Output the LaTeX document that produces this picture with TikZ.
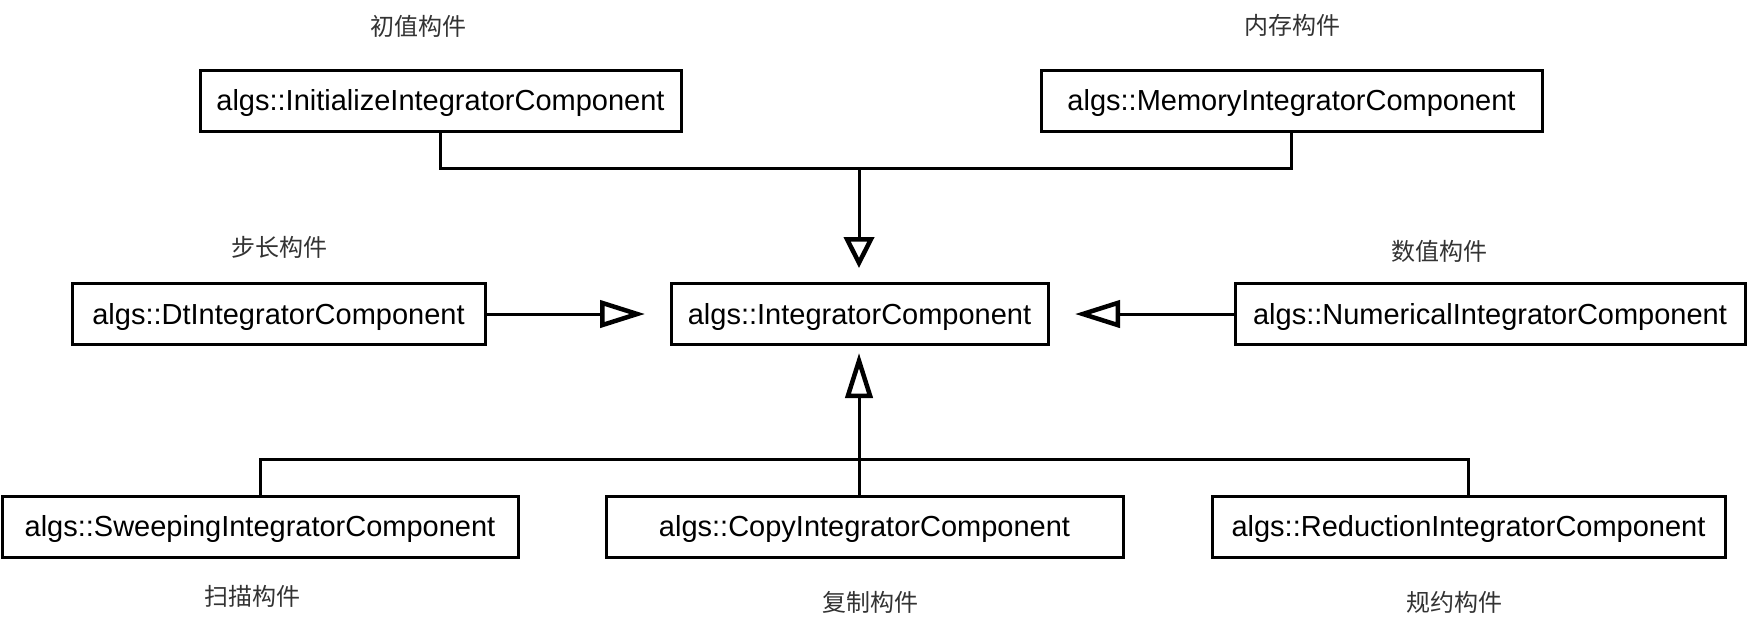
\documentclass[tikz,border=0pt]{standalone}
\usepackage{fontspec}
\setmainfont{Liberation Sans}
\newfontfamily\cjk{Noto Sans CJK SC}
\usetikzlibrary{arrows.meta}
\begin{document}
\begin{tikzpicture}[x=1pt,y=-1pt,
  cls/.style={draw, line width=3pt, minimum height=61pt, inner sep=0pt, text height=26.2pt, text depth=6.1pt, font=\fontsize{29}{34}\selectfont, text=black},
  lbl/.style={font=\cjk\fontsize{24}{28}\selectfont, text=black!80, inner sep=0pt},
  conn/.style={line width=3pt},
  inh/.style={conn, -{Triangle[open, length=45pt, width=27pt, line width=4.5pt]}},
  inhs/.style={conn, -{Triangle[open, length=31pt, width=30pt, line width=4.5pt]}},
]
\useasboundingbox (0,0) rectangle (1747,630);
\fill[white] (0,0) rectangle (1747,630);

\node[cls, minimum width=481pt] (init) at (440.5,100.5) {algs::InitializeIntegratorComponent};
\node[cls, minimum width=501pt] (mem) at (1291.5,100.5) {algs::MemoryIntegratorComponent};
\node[cls, minimum width=413pt] (dt) at (278.5,314) {algs::DtIntegratorComponent};
\node[cls, minimum width=377pt] (cen) at (859.5,314) {algs::IntegratorComponent};
\node[cls, minimum width=510pt] (num) at (1490,314) {algs::NumericalIntegratorComponent};
\node[cls, minimum width=516pt] (sweep) at (260,526.5) {algs::SweepingIntegratorComponent};
\node[cls, minimum width=517pt] (copy) at (864.5,526.5) {algs::CopyIntegratorComponent};
\node[cls, minimum width=513pt] (red) at (1468.5,526.5) {algs::ReductionIntegratorComponent};

\node[lbl] (linit) at (418,26) {初值构件};
\node[lbl] (lmem) at (1292,25) {内存构件};
\node[lbl] (ldt) at (279,247) {步长构件};
\node[lbl] (lnum) at (1439,251) {数值构件};
\node[lbl] (lsweep) at (252,596) {扫描构件};
\node[lbl] (lcopy) at (870,602) {复制构件};
\node[lbl] (lred) at (1454,602) {规约构件};

\coordinate (topj) at (859,168);
\coordinate (toptip) at (859,268);
\coordinate (botj) at (859,459);
\coordinate (bottip) at (859,353);
\coordinate (ltip) at (645,314);
\coordinate (rtip) at (1075,314);

\draw[conn] (init.south) |- (topj) -| (mem.south);
\draw[inhs] (topj) -- (toptip);
\draw[conn] (sweep.north) |- (botj) -| (red.north);
\draw[inh] (botj |- copy.north) -- (bottip);
\draw[inh] (dt.east) -- (ltip);
\draw[inh] (num.west) -- (rtip);
\end{tikzpicture}
\end{document}
